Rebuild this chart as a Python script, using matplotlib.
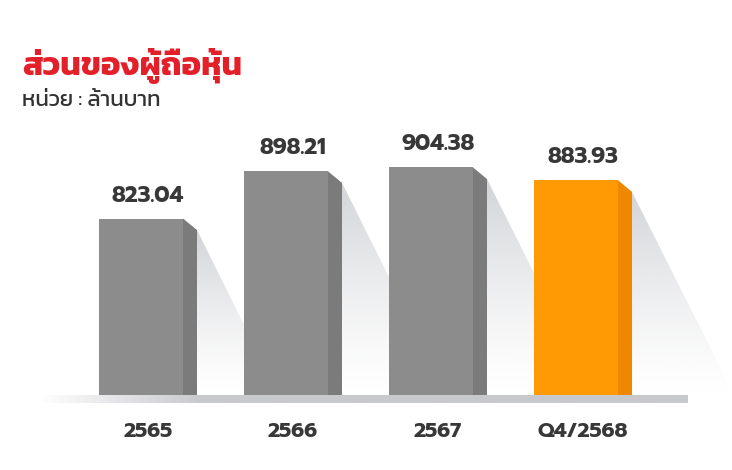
import matplotlib
matplotlib.use("Agg")
import matplotlib.pyplot as plt
import numpy as np
from matplotlib.patches import Polygon

categories = ["2565", "2566", "2567", "Q4/2568"]
values = [823.04, 898.21, 904.38, 883.93]
highlight = [False, False, False, True]

title = "ส่วนของผู้ถือหุ้น"
subtitle = "หน่วย : ล้านบาท"

W, H = 732, 470
FLOOR = 542.0          # value that sits on the floor line
K = 0.628              # pixels per unit
STEP = 145.0           # pixels between bars
X0 = 141.0             # pixel centre of first bar
FLOOR_PX = 395.0

fig = plt.figure(figsize=(W / 100, H / 100), dpi=100)
ax = fig.add_axes([0, 0, 1, 1])
ax.set_xlim(-X0 / STEP, (W - X0) / STEP)
ax.set_ylim(FLOOR - (H - FLOOR_PX) / K, FLOOR + FLOOR_PX / K)
ax.axis("off")

bw = 84 / STEP           # front face width
sw = 14 / STEP           # side face width
drop = 11.6 / K          # slant of the side top

num_font = ["Prompt", "Kanit"]

# floor
floor_img = np.ones((1, 200, 4))
floor_img[..., :3] = np.array([200, 201, 205]) / 255
floor_img[0, :, 3] = np.clip(np.linspace(0, 4, 200), 0, 1)
ax.imshow(floor_img, extent=[(38 - X0) / STEP, (688 - X0) / STEP,
                             FLOOR - 8 / K, FLOOR],
          aspect="auto", zorder=1, interpolation="bilinear")

for i, (v, hl) in enumerate(zip(values, highlight)):
    x = i
    front = "#ff9a05" if hl else "#8c8c8c"
    side = "#f08700" if hl else "#7b7b7b"
    xr = x + bw / 2

    # shadow
    top = v - drop
    spread = (top - FLOOR) * K * 0.5 / STEP
    shadow = Polygon([(xr + sw, top), (xr + sw, FLOOR), (xr + sw + spread, FLOOR)],
                     closed=True, facecolor="none", edgecolor="none")
    ax.add_patch(shadow)
    grad = np.ones((100, 1, 4))
    grad[..., :3] = np.array([200, 202, 206]) / 255
    grad[:, 0, 3] = np.linspace(0.85, 0.0, 100) ** 1.3
    im = ax.imshow(grad, extent=[xr + sw, xr + sw + spread, FLOOR, top],
                   aspect="auto", zorder=0.5, interpolation="bilinear")
    im.set_clip_path(shadow)

    # front face
    ax.bar(x, v - FLOOR, bottom=FLOOR, width=bw, color=front, zorder=2)
    # side face
    ax.add_patch(Polygon([(xr, v), (xr + sw, v - drop), (xr + sw, FLOOR), (xr, FLOOR)],
                         closed=True, facecolor=side, edgecolor="none", zorder=2))

    lx = x + sw / 2
    ax.text(lx, v + 12 / K, f"{v:.2f}", ha="center", va="bottom",
            fontsize=16, fontweight="bold", color="#383838", family=num_font)
    ax.text(lx, FLOOR - 37 / K, categories[i], ha="center", va="center",
            fontsize=15, fontweight="bold", color="#383838", family=num_font)

fig.text(22 / W, 1 - 66 / H, title, ha="left", va="center", fontsize=23.5,
         fontweight="bold", color="#e3202a", family=["Kanit"])
fig.text(22 / W, 1 - 101 / H, subtitle, ha="left", va="center", fontsize=16,
         fontweight="normal", color="#333333", family=["Kanit"])

fig.savefig("out.png", dpi=100)
